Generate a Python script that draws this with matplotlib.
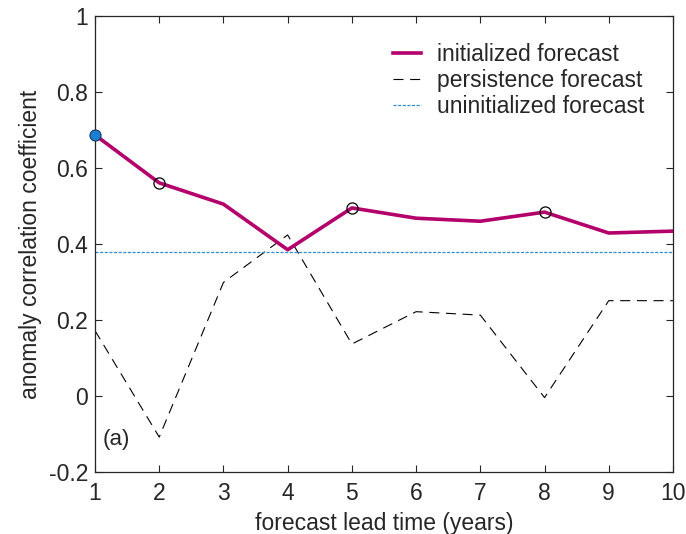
import numpy as np
import matplotlib
matplotlib.use('Agg')
from matplotlib import pyplot as plt

plt.rcParams['font.family'] = ['Liberation Sans', 'DejaVu Sans']

lead = [1, 2, 3, 4, 5, 6, 7, 8, 9, 10]
initialized = [0.687, 0.561, 0.505, 0.385, 0.495, 0.468, 0.460, 0.484, 0.429, 0.434]
persistence = [0.172, -0.108, 0.299, 0.424, 0.137, 0.222, 0.213, -0.004, 0.251, 0.251]
uninitialized = 0.38
circled = [2, 5, 8]

fig = plt.figure(figsize=(6.86, 5.34), dpi=100)
ax = fig.add_axes([0.1385, 0.116, 0.8425, 0.854])

gray = '#262626'
ax.plot(lead, initialized, color='#b3006b', lw=2.6, label='initialized forecast', zorder=3)
ax.plot(lead, persistence, color='black', lw=0.8, dashes=(9, 6), label='persistence forecast', zorder=2)
ax.axhline(uninitialized, color='#2e8fd6', lw=0.9, ls=(0, (2.5, 1.2)), label='uninitialized forecast', zorder=2)

ci = [initialized[lead.index(c)] for c in circled]
ax.plot(circled, ci, 'o', mfc='none', mec='black', ms=8, mew=0.9, zorder=4)
ax.plot(lead[0], initialized[0], 'o', mfc='#1a7fd4', mec='#1a3a5a', ms=8, mew=0.8,
        zorder=5, clip_on=False)

ax.set_xlim(1, 10)
ax.set_ylim(-0.2, 1)
ax.set_xticks(lead)
ax.set_yticks([-0.2, 0, 0.2, 0.4, 0.6, 0.8, 1])
ax.set_yticklabels(['-0.2', '0', '0.2', '0.4', '0.6', '0.8', '1'])
ax.tick_params(direction='in', top=True, right=True, length=5, width=0.8,
               colors=gray, labelsize=16.5)
ax.tick_params(axis='y', pad=5)
ax.tick_params(axis='x', pad=7)
for s in ax.spines.values():
    s.set_color(gray)
    s.set_linewidth(0.9)

ax.set_xlabel('forecast lead time (years)', fontsize=16.5, color=gray, labelpad=5)
ax.set_ylabel('anomaly correlation coefficient', fontsize=16.5, color=gray, labelpad=5)
ax.text(1.12, -0.13, '(a)', fontsize=16, color=gray)

leg = ax.legend(loc='upper right', frameon=False, fontsize=16.5, handlelength=1.2,
                handletextpad=0.7, labelspacing=0.13, borderaxespad=0.0,
                bbox_to_anchor=(0.966, 0.96))
for t in leg.get_texts():
    t.set_color(gray)

fig.savefig('out.png', dpi=100)
